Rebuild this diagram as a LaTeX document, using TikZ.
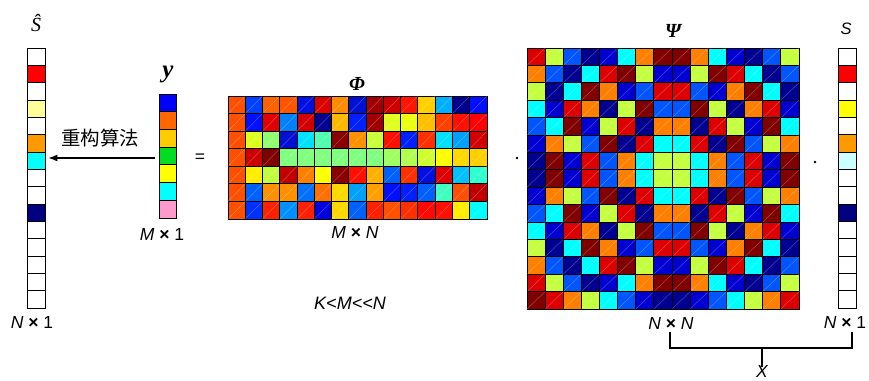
\documentclass[tikz,border=0pt]{standalone}
\usepackage{fontspec}
\setmainfont{Liberation Sans}
\newfontfamily\cjk{Noto Sans CJK SC}
\newfontfamily\tms{Liberation Serif}
\usetikzlibrary{arrows.meta}
\definecolor{pR}{HTML}{DD0000}
\definecolor{pG}{HTML}{C4FF40}
\definecolor{pA}{HTML}{0055FF}
\definecolor{pN}{HTML}{000090}
\definecolor{pB}{HTML}{0000D0}
\definecolor{pC}{HTML}{00FFFF}
\definecolor{pO}{HTML}{FF8000}
\definecolor{pD}{HTML}{800000}
\tikzset{
  cell/.style={draw=black, line width=0.9pt},
  diag/.style={draw=white, opacity=0.35, line width=0.35pt},
  lbl/.style={font=\fontsize{17.5}{19}\selectfont, inner sep=0pt},
  grk/.style={inner sep=0pt, font=\fontsize{20}{22}\tms\bfseries\itshape},
  grp/.style={draw=none, inner sep=0pt, anchor=north west},
  brk/.style={draw=black, line width=1.1pt},
}
\begin{document}
\begin{tikzpicture}[x=1pt,y=-1pt]
\useasboundingbox (0,0) rectangle (869,380);
\fill[white] (0,0) rectangle (869,380);

% ---- group nodes
\node[grp, minimum width=18pt, minimum height=260pt] (shat) at (27,48) {};
\node[grp, minimum width=17pt, minimum height=124pt] (ycol) at (159,94) {};
\node[grp, minimum width=259pt, minimum height=123pt] (phi) at (228,96) {};
\node[grp, minimum width=272pt, minimum height=261pt] (psi) at (527,48) {};
\node[grp, minimum width=18pt, minimum height=260pt] (scol) at (838,48) {};

% ---- S hat column
\foreach \c [count=\i from 0] in {FFFFFF,FF0000,FFFFFF,FFFF99,FFFFFF,FF9900,00FFFF,FFFFFF,FFFFFF,000080,FFFFFF,FFFFFF,FFFFFF,FFFFFF,FFFFFF}{
  \definecolor{tmp}{HTML}{\c}
  \filldraw[cell, fill=tmp] (27,48+\i*17.333) rectangle ++(18,17.333);
}
% ---- S column
\foreach \c [count=\i from 0] in {FFFFFF,FF0000,FFFFFF,FFFF00,FFFFFF,FF9900,CCFFFF,FFFFFF,FFFFFF,000080,FFFFFF,FFFFFF,FFFFFF,FFFFFF,FFFFFF}{
  \definecolor{tmp}{HTML}{\c}
  \filldraw[cell, fill=tmp] (838,48+\i*17.333) rectangle ++(18,17.333);
}
% ---- y column
\foreach \c [count=\i from 0] in {0000FF,FF6600,FFCC00,00DD22,FFFF00,00FFFF,FF99CC}{
  \definecolor{tmp}{HTML}{\c}
  \filldraw[cell, fill=tmp] (159,94+\i*17.714) rectangle ++(17,17.714);
}

% ---- Phi matrix
\foreach \row [count=\i from 0] in {
 {FF5000,0040FF,FF6000,FF5500,0010E0,DD0000,FF8C00,0010D0,A00000,CC0000,FF1500,FFD000,00B0FF,000090,0010FF},
 {FF5000,0010FF,E00000,0080FF,D00000,000090,FFB800,0020FF,A00000,E0FF20,ECFF10,FFC000,FF4000,FF1000,FF0000},
 {FF5000,DDFF20,90FF70,0010D0,00E0FF,50FFB0,880000,FF9000,C8FF38,FF1000,0020FF,FF3000,00E0FF,00A0FF,D00000},
 {FF5000,CC0000,800000,80FF80,80FF80,80FF80,80FF80,80FF80,80FF80,A0FF60,B0FF50,D0FF30,FFFF00,FFD800,FFD000},
 {FF5000,FFEE00,C0FF40,C00000,FF8000,FFFF00,880000,FF1000,FFB000,0060FF,FF3000,0010E0,DD0000,00C0FF,30FFD0},
 {FF5000,0060FF,FF9000,FF9000,0070FF,FF7000,FFD800,00A0FF,FFA000,0010FF,0020FF,0060FF,40FFC0,FF5000,C00000},
 {FF5000,0030FF,FF2000,0090FF,FF2000,0000E0,FFD800,0060FF,FF2000,FF5000,FF3000,FF0800,FF1000,FFEE00,00FFFF}}{
  \foreach \c [count=\j from 0] in \row {
    \definecolor{tmp}{HTML}{\c}
    \filldraw[cell, fill=tmp] (228+\j*17.267,96+\i*17.571) rectangle ++(17.267,17.571);
    \draw[diag] (228+\j*17.267,96+\i*17.571+17.571) -- ++(17.267,-17.571);
  }
}

% ---- Psi matrix
\foreach \row [count=\i from 0] in {
 {R,G,A,N,B,C,O,D,D,O,C,B,N,A,G},
 {O,A,N,C,R,D,G,B,B,G,D,R,C,N,A},
 {G,N,C,D,O,B,A,R,R,A,B,O,D,C,N},
 {C,B,R,O,N,G,D,A,A,D,G,N,O,R,B},
 {A,C,D,B,G,R,N,O,O,N,R,G,B,D,C},
 {B,O,G,A,D,N,R,C,C,R,N,D,A,G,O},
 {N,D,B,R,A,O,C,G,G,C,O,A,R,B,D},
 {N,D,B,R,A,O,C,G,G,C,O,A,R,B,D},
 {B,O,G,A,D,N,R,C,C,R,N,D,A,G,O},
 {A,C,D,B,G,R,N,O,O,N,R,G,B,D,C},
 {C,B,R,O,N,G,D,A,A,D,G,N,O,R,B},
 {G,N,C,D,O,B,A,R,R,A,B,O,D,C,N},
 {O,A,N,C,R,D,G,B,B,G,D,R,C,N,A},
 {R,G,A,N,B,C,O,D,D,O,C,B,N,A,G},
 {D,R,O,G,C,A,B,N,N,B,A,C,G,O,R}}{
  \foreach \c [count=\j from 0] in \row {
    \filldraw[cell, fill=p\c] (527+\j*18.133,48+\i*17.4) rectangle ++(18.133,17.4);
    \draw[diag] (527+\j*18.133,48+\i*17.4+17.4) -- ++(18.133,-17.4);
  }
}

% ---- labels
\node[inner sep=0pt, font=\fontsize{20}{22}\tms\itshape] (shatlbl) at (36,23) {Ŝ};
\node[lbl, font=\fontsize{16.5}{18}\selectfont] (slbl) at (846,29) {\itshape S};
\node[inner sep=0pt, font=\fontsize{25}{27}\tms\bfseries\itshape] (ylbl) at (168,74) {y};
\node[grk] (philbl) at (357,84) {Φ};
\node[grk] (psilbl) at (673,31) {Ψ};

\node[lbl] (n1l) at (32,322) {\itshape N {\bfseries\upshape ×} \upshape 1};
\node[lbl] (m1) at (162,234) {\itshape M {\bfseries\upshape ×} \upshape 1};
\node[lbl] (mn) at (355,232) {\itshape M {\bfseries\upshape ×} N};
\node[lbl] (nn) at (671,323) {\itshape N {\bfseries\upshape ×} N};
\node[lbl] (n1r) at (845,322) {\itshape N {\bfseries\upshape ×} \upshape 1};
\node[lbl, font=\fontsize{18}{20}\selectfont] (kmn) at (350,303) {\itshape K<M<{}<N};
\node[lbl] (xlbl) at (762,371) {\itshape X};
\node[lbl] (eq) at (200,158) {=};
\node[inner sep=0pt, font=\fontsize{19.5}{21}\cjk] (alg) at (100,138) {重构算法};

\fill (517,158) circle (1.3);
\fill (815,162) circle (1.3);

% ---- arrow
\draw[line width=1.2pt, -{Latex[length=9pt,width=7pt]}] ([xshift=-4pt]ycol.west |- 0,158) -- ([xshift=3pt]shat.east |- 0,158);

% ---- bracket
\coordinate (bl) at (670,332);
\coordinate (br) at (852,332);
\coordinate (bm) at (762,348);
\draw[brk] (bl) -- (bl |- bm) -- (br |- bm) -- (br);
\draw[brk] (bm) -- ([yshift=-2pt]xlbl.north);
\end{tikzpicture}
\end{document}
